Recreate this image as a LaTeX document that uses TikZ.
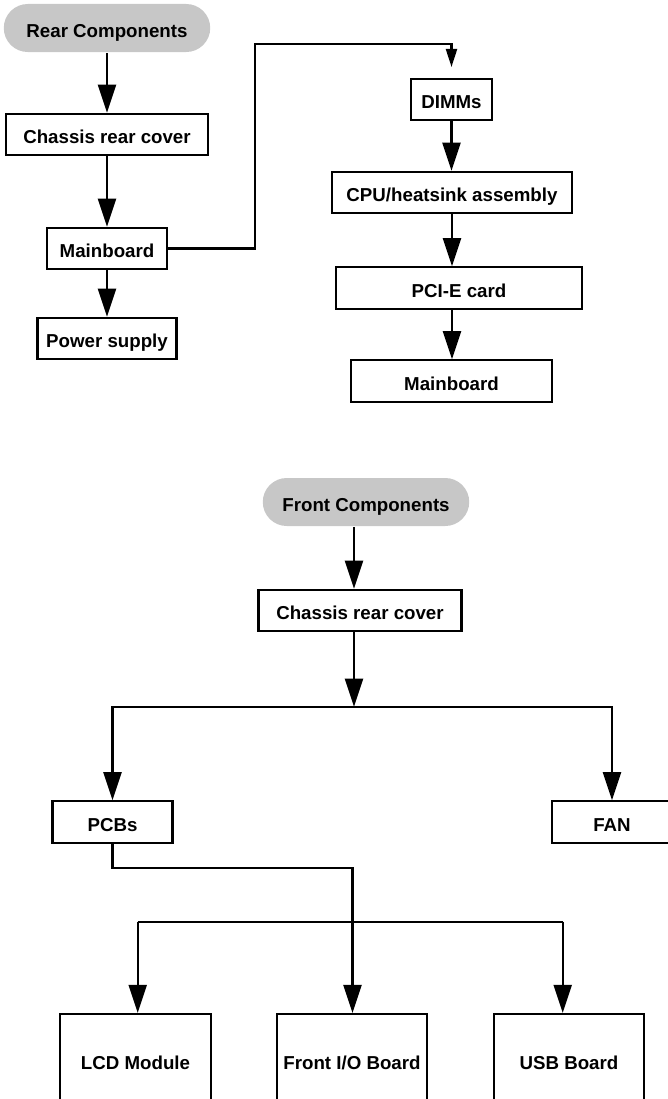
\documentclass[tikz,border=0pt]{standalone}
\usepackage{fontspec}
\setmainfont{Liberation Sans}
\usetikzlibrary{arrows.meta}
\definecolor{pillgray}{gray}{0.78}

\begin{document}
\begin{tikzpicture}[x=0.025cm,y=-0.025cm,line width=1.5pt,
  >={Triangle[length=0.7cm,width=0.45cm]},
  font=\fontsize{13.3}{15.8}\selectfont\bfseries,
  partbox/.style={draw,rectangle,minimum height=1.04cm,inner sep=0pt,
    text height=13pt,text depth=0pt},
  headpill/.style={fill=pillgray,rounded corners=0.6cm,minimum width=5.16cm,
    minimum height=1.2cm,inner sep=0pt,text height=13pt,text depth=0pt}]
  \useasboundingbox (0,0) rectangle (667,1099);

  % 后部部件
  \node[headpill] (rear) at (107,28) {Rear Components};
  \node[partbox,minimum width=5.05cm] (rcover) at (107,134.5) {Chassis rear cover};
  \node[partbox,minimum width=3cm] (rmain) at (107,248.5) {Mainboard};
  \node[partbox,minimum width=3.475cm] (psu) at (107,338.5) {Power supply};

  \node[partbox,minimum width=2.025cm] (dimm) at (451.5,99.5) {DIMMs};
  \node[partbox,minimum width=6cm] (cpu) at (452,192.5) {CPU/heatsink assembly};
  \node[partbox,minimum width=6.15cm] (pcie) at (459,288) {PCI-E card};
  \node[partbox,minimum width=5.025cm] (rmain2) at (451.5,381) {Mainboard};

  \coordinate (up) at (255,44);
  \coordinate (dimmin) at (451.5,67);

  \draw[->] (rear) -- (rcover);
  \draw[->] (rcover) -- (rmain);
  \draw[->] (rmain) -- (psu);
  \draw[-{Triangle[length=0.45cm,width=0.275cm]}] (rmain.east) -| (up) -| (dimmin);
  \draw[->] (dimm) -- (dimm |- cpu.north);
  \draw[->] (cpu) -- (cpu |- pcie.north);
  \draw[->] (cpu |- pcie.south) -- (cpu |- rmain2.north);

  % 前部部件
  \node[headpill] (front) at (366,502) {Front Components};
  \node[partbox,minimum width=5.075cm] (fcover) at (360,610.5) {Chassis rear cover};
  \node[partbox,minimum width=3cm] (pcb) at (112.5,822) {PCBs};
  \node[partbox,minimum width=3cm] (fan) at (612,822) {FAN};
  \node[partbox,minimum width=3.775cm,minimum height=2.3cm] (lcd) at (135.5,1060) {LCD Module};
  \node[partbox,minimum width=3.75cm,minimum height=2.3cm] (fio) at (352,1060) {Front I/O Board};
  \node[partbox,minimum width=3.75cm,minimum height=2.3cm] (usb) at (569,1060) {USB Board};

  \coordinate (split) at (354,706.7);
  \coordinate (bend) at (352.5,867.7);
  \coordinate (lcdin) at (137.7,921.7);
  \coordinate (usbin) at (562.7,921.7);

  \draw[->] (front.south -| split) -- (fcover.north -| split);
  \draw[->] (fcover.south -| split) -- (split);
  \draw[->] (split) -| (pcb.north);
  \draw[->] (split) -| (fan.north);
  \draw[->] (pcb.south) |- (bend) -- (fio.north -| bend);
  \draw (lcdin) -- (usbin);
  \draw[->] (lcdin) -- (lcd.north -| lcdin);
  \draw[->] (usbin) -- (usb.north -| usbin);
\end{tikzpicture}
\end{document}
